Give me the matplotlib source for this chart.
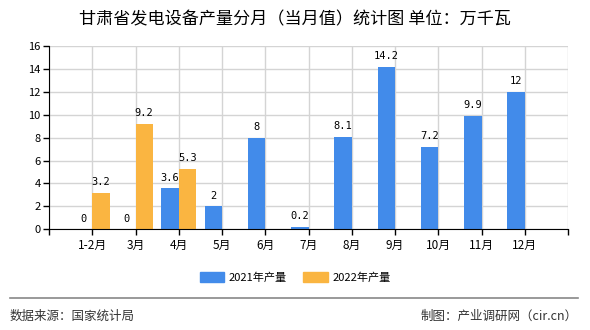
import numpy as np
import matplotlib
matplotlib.use("Agg")
import matplotlib.pyplot as plt
from matplotlib.patches import Patch
from matplotlib.lines import Line2D

plt.rcParams['font.family'] = ['Noto Sans CJK SC', 'DejaVu Sans']

# data
months = ["1-2月", "3月", "4月", "5月", "6月", "7月", "8月", "9月", "10月", "11月", "12月"]
prod_2021 = [0, 0, 3.6, 2, 8, 0.2, 8.1, 14.2, 7.2, 9.9, 12]
prod_2022 = [3.2, 9.2, 5.3]

blue = "#428bea"
orange = "#fab541"

fig = plt.figure(figsize=(5.9, 3.3), dpi=100)
ax = fig.add_axes([49/590, 1-229.3/330, (568-49)/590, (229.3-46)/330])

x = np.arange(1, len(months)+1)
w = 0.4
ax.bar(x, prod_2021, width=-w, align='edge', color=blue, zorder=3)
x22 = x[:len(prod_2022)]
ax.bar(x22, prod_2022, width=w, align='edge', color=orange, zorder=3)

# value labels
for xi, v in zip(x, prod_2021):
    ax.annotate("%g" % v, (xi - w/2, v), xytext=(0, 4), textcoords='offset points',
                ha='center', va='bottom', fontsize=7.5, family='DejaVu Sans Mono')
for xi, v in zip(x22, prod_2022):
    ax.annotate("%g" % v, (xi + w/2, v), xytext=(0, 4), textcoords='offset points',
                ha='center', va='bottom', fontsize=7.5, family='DejaVu Sans Mono')

ax.set_xlim(0, 12)
ax.set_ylim(0, 16)
ax.set_yticks(range(0, 17, 2))
ax.set_xticks(range(0, 13))
ax.set_xticklabels([""] + months + [""])
ax.tick_params(axis='x', length=4, width=1, pad=3, labelsize=8.5)
ax.tick_params(axis='y', length=4, width=1, pad=2, labelsize=8)
ax.grid(True, color="#d4d4d4", linewidth=1, zorder=0)
for s in ['top', 'right']:
    ax.spines[s].set_visible(False)
for s in ['left', 'bottom']:
    ax.spines[s].set_color('black')
    ax.spines[s].set_zorder(4)

fig.text(0.5, 1-19/330, "甘肃省发电设备产量分月（当月值）统计图 单位：万千瓦",
         ha='center', va='center', fontsize=12.3)

handles = [Patch(color=blue, label="2021年产量"), Patch(color=orange, label="2022年产量")]
fig.legend(handles=handles, loc='center', bbox_to_anchor=(0.5, 1-277/330), ncol=2,
           frameon=False, fontsize=8, handlelength=2.2, handleheight=1.0,
           columnspacing=1.5, handletextpad=0.4)

fig.add_artist(Line2D([10/590, 578/590], [1-298/330, 1-298/330], color="#888888", linewidth=1.2))
fig.text(10/590, 1-316/330, "数据来源：国家统计局", ha='left', va='center', fontsize=9, color="#333333")
fig.text(578/590, 1-316/330, "制图：产业调研网（cir.cn）", ha='right', va='center', fontsize=9, color="#333333")

fig.savefig("out.png", dpi=100)
